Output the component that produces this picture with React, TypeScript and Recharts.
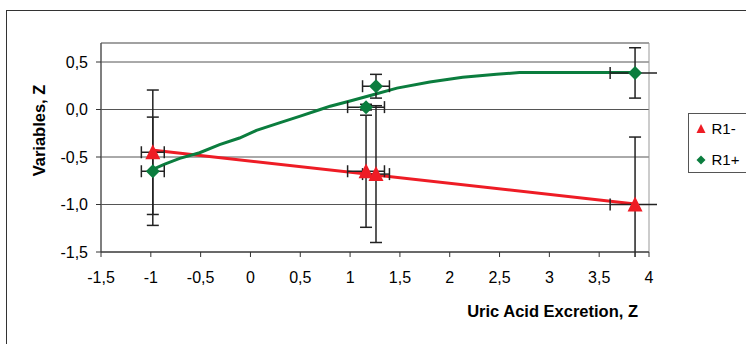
import React from 'react';
import {
  ComposedChart,
  XAxis,
  YAxis,
  CartesianGrid,
  Line,
  Scatter,
  ErrorBar,
  Legend,
  ReferenceArea,
  Label,
} from 'recharts';

// ---- data ----
const seriesNames = ['R1-', 'R1+'];

const r1MinusX = [-0.98, 1.16, 1.26, 3.86];
const r1MinusY = [-0.45, -0.65, -0.68, -1.0];
const r1MinusErrX = [0.115, 0.185, 0.135, 0.25];
const r1MinusErrY = [0.655, 0.59, 0.72, 0.71];

const r1PlusX = [-0.98, 1.16, 1.26, 3.86];
const r1PlusY = [-0.65, 0.025, 0.245, 0.385];
const r1PlusErrX = [0.115, 0.185, 0.135, 0.25];
const r1PlusErrY = [0.57, 0.03, 0.125, 0.265];

const r1MinusFitX = [-0.97, 3.86];
const r1MinusFitY = [-0.43, -0.995];

const r1PlusFitX = [-0.98, -0.86, -0.71, -0.51, -0.31, -0.11, 0.06, 0.29, 0.5, 0.7, 0.8, 1.0, 1.23, 1.47, 1.8, 2.13, 2.47, 2.7, 3.86];
const r1PlusFitY = [-0.63, -0.575, -0.515, -0.455, -0.37, -0.3, -0.22, -0.14, -0.07, 0.0, 0.035, 0.09, 0.155, 0.225, 0.29, 0.34, 0.37, 0.39, 0.39];

const xTicks = [-1.5, -1, -0.5, 0, 0.5, 1, 1.5, 2, 2.5, 3, 3.5, 4];
const yTicks = [-1.5, -1, -0.5, 0, 0.5];
const xDomain = [-1.5, 4];
const yDomain = [-1.5, 0.7];

const xTitle = 'Uric Acid Excretion, Z';
const yTitle = 'Variables, Z';

// ---- styling ----
const RED = '#ee1c25';
const GREEN = '#0b7d3e';
const FONT = '"Liberation Sans", Arial, sans-serif';

const minusPoints = r1MinusX.map((x, i) => ({ x, y: r1MinusY[i], ex: r1MinusErrX[i], ey: r1MinusErrY[i] }));
const plusPoints = r1PlusX.map((x, i) => ({ x, y: r1PlusY[i], ex: r1PlusErrX[i], ey: r1PlusErrY[i] }));
const minusFit = r1MinusFitX.map((x, i) => ({ x, y: r1MinusFitY[i] }));
const plusFit = r1PlusFitX.map((x, i) => ({ x, y: r1PlusFitY[i] }));

const fmtX = (v: number) => (Number.isInteger(v) ? String(v) : v.toFixed(1).replace('.', ','));
const fmtY = (v: number) => v.toFixed(1).replace('.', ',');

const Triangle = (p: any) => {
  const { cx, cy } = p;
  if (cx == null || cy == null) return <g />;
  return <path d={`M${cx},${cy - 8}L${cx + 7.5},${cy + 7}L${cx - 7.5},${cy + 7}Z`} fill={RED} />;
};

const Diamond = (p: any) => {
  const { cx, cy } = p;
  if (cx == null || cy == null) return <g />;
  return <path d={`M${cx},${cy - 7}L${cx + 7},${cy}L${cx},${cy + 7}L${cx - 7},${cy}Z`} fill={GREEN} />;
};

const renderLegend = () => (
  <svg width={70} height={61} style={{ display: 'block' }}>
    <rect x={0.5} y={0.5} width={80} height={59} fill="#fff" stroke="#555" strokeWidth={1} />
    <path d="M13,11L17.5,20L8.5,20Z" fill={RED} />
    <text x={23.5} y={21} fontFamily={FONT} fontSize={15} fill="#000">{seriesNames[0]}</text>
    <path d="M13,42.5L17.5,47L13,51.5L8.5,47Z" fill={GREEN} />
    <text x={23.5} y={52} fontFamily={FONT} fontSize={15} fill="#000">{seriesNames[1]}</text>
  </svg>
);

const EB = { stroke: '#222', strokeWidth: 1.5, width: 6, isAnimationActive: false, clipPath: 'url(#ebClip)' } as any;

export default function App() {
  return (
    <div style={{ position: 'absolute', left: 0, top: 0, width: 746, height: 344, overflow: 'hidden', background: '#fff' }}>
      <svg width={0} height={0} style={{ position: 'absolute' }}>
        <defs>
          <clipPath id="ebClip" clipPathUnits="userSpaceOnUse">
            <rect x={60} y={20} width={597} height={237} />
          </clipPath>
        </defs>
      </svg>
      <div
        style={{
          position: 'absolute',
          left: 6,
          top: 10,
          width: 800,
          height: 400,
          border: '1px solid #333',
        }}
      />
      <div style={{ position: 'absolute', left: 0, top: 0 }}>
        <ComposedChart
          width={746}
          height={344}
          margin={{ top: 43, right: 97, bottom: 16, left: 41 }}
        >
          <CartesianGrid vertical={false} stroke="#555" strokeWidth={1} />
          <ReferenceArea
            x1={xDomain[0]}
            x2={xDomain[1]}
            y1={yDomain[0]}
            y2={yDomain[1]}
            fill="none"
            stroke="#999"
            strokeWidth={1}
            ifOverflow="visible"
          />
          <XAxis
            dataKey="x"
            type="number"
            domain={xDomain}
            ticks={xTicks}
            allowDataOverflow
            tickFormatter={fmtX}
            height={76}
            tickSize={5}
            tickMargin={15}
            stroke="#333"
            tick={{ fill: '#000', fontSize: 16, fontFamily: FONT }}
            interval={0}
          >
            <Label
              value={xTitle}
              position="insideBottomRight"
              offset={11}
              style={{ fontFamily: FONT, fontSize: 16.5, fontWeight: 'bold', fill: '#000' }}
            />
          </XAxis>
          <YAxis
            dataKey="y"
            type="number"
            domain={yDomain}
            ticks={yTicks}
            allowDataOverflow
            tickFormatter={fmtY}
            width={60}
            tickSize={5}
            tickMargin={8}
            stroke="#333"
            tick={{ fill: '#000', fontSize: 16, fontFamily: FONT }}
            interval={0}
          >
            <Label
              value={yTitle}
              position="center"
              angle={-90}
              dx={-32}
              dy={-17}
              style={{ fontFamily: FONT, fontSize: 16.5, fontWeight: 'bold', fill: '#000' }}
            />
          </YAxis>
          <Legend
            layout="vertical"
            align="center"
            verticalAlign="middle"
            content={renderLegend}
            wrapperStyle={{ left: 688, top: 113, width: 70, height: 61 }}
          />
          <Line
            data={minusFit}
            dataKey="y"
            stroke={RED}
            strokeWidth={3}
            dot={false}
            activeDot={false}
            isAnimationActive={false}
            type="linear"
            legendType="none"
          />
          <Line
            data={plusFit}
            dataKey="y"
            stroke={GREEN}
            strokeWidth={3}
            dot={false}
            activeDot={false}
            isAnimationActive={false}
            type="linear"
            legendType="none"
          />
          <Scatter name={seriesNames[1]} data={plusPoints} dataKey="y" shape={Diamond} isAnimationActive={false}>
            <ErrorBar dataKey="ey" direction="y" {...EB} />
            <ErrorBar dataKey="ex" direction="x" {...EB} />
          </Scatter>
          <Scatter name={seriesNames[0]} data={minusPoints} dataKey="y" shape={Triangle} isAnimationActive={false}>
            <ErrorBar dataKey="ey" direction="y" {...EB} />
            <ErrorBar dataKey="ex" direction="x" {...EB} />
          </Scatter>
        </ComposedChart>
      </div>
    </div>
  );
}
